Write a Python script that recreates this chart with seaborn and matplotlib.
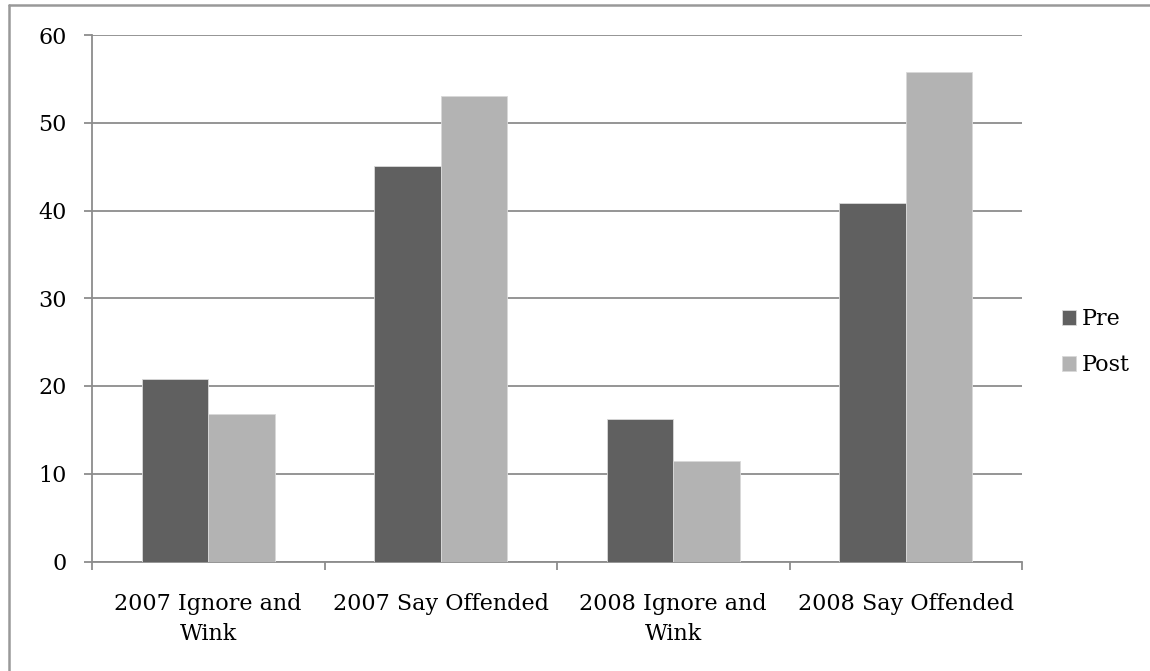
import matplotlib
matplotlib.use("Agg")
import matplotlib.pyplot as plt
from matplotlib.lines import Line2D
import seaborn as sns
import pandas as pd

categories = ["2007 Ignore and\nWink", "2007 Say Offended", "2008 Ignore and\nWink", "2008 Say Offended"]
series_names = ["Pre", "Post"]
pre_values = [20.8, 45.1, 16.2, 40.8]
post_values = [16.8, 53.0, 11.5, 55.8]
y_ticks = [0, 10, 20, 30, 40, 50, 60]

colors = {"Pre": "#606060", "Post": "#b3b3b3"}
grid_color = "#8c8c8c"
font_size = 16

df = pd.DataFrame({
    "category": categories * 2,
    "series": [series_names[0]] * len(categories) + [series_names[1]] * len(categories),
    "value": pre_values + post_values,
})

sns.set_theme(style="white")
plt.rcParams["font.family"] = ["DejaVu Serif"]
plt.rcParams["text.color"] = "black"
plt.rcParams["xtick.color"] = "black"
plt.rcParams["ytick.color"] = "black"

fig = plt.figure(figsize=(11.5, 6.71), dpi=100)
ax = fig.add_axes([92 / 1150, 1 - 561.5 / 671, (1022 - 92) / 1150, (561.5 - 35) / 671])

sns.barplot(data=df, x="category", y="value", hue="series", order=categories,
            hue_order=series_names, palette=colors, width=0.57, gap=0,
            saturation=1, ax=ax, legend=True)

for p in ax.patches:
    p.set_edgecolor("#d9d9d9")
    p.set_linewidth(0.6)
    p.set_zorder(3)

ax.set_xlim(-0.5, len(categories) - 0.5)
ax.set_ylim(0, 60)
ax.set_yticks(y_ticks)
ax.set_yticklabels([str(t) for t in y_ticks])
ax.yaxis.grid(True, color=grid_color, linewidth=1.3, zorder=0)
ax.set_axisbelow(True)

# category boundaries carry the tick marks, centres carry the labels
ax.set_xticks([i - 0.5 for i in range(len(categories) + 1)])
ax.set_xticklabels([])
ax.set_xticks(range(len(categories)), minor=True)
ax.set_xticklabels(categories, minor=True, fontsize=font_size, linespacing=1.45)
ax.tick_params(axis="x", which="major", direction="out", length=6, width=1.3,
               color=grid_color, bottom=True)
ax.tick_params(axis="x", which="minor", length=0, pad=23, labelcolor="black")
ax.tick_params(axis="y", direction="out", length=6, width=1.3, color=grid_color,
               left=True, labelsize=font_size, labelcolor="black", pad=12)
ax.set_xlabel("")
ax.set_ylabel("")

for side in ["top", "right"]:
    ax.spines[side].set_visible(False)
for side in ["left", "bottom"]:
    ax.spines[side].set_color(grid_color)
    ax.spines[side].set_linewidth(1.3)

handles, labels = ax.get_legend_handles_labels()
ax.legend_.remove()
fig.legend(handles, labels, loc="center left", bbox_to_anchor=(1062 / 1150, 1 - 342 / 671),
           frameon=False, fontsize=font_size, handlelength=0.65, handleheight=0.65,
           handletextpad=0.25, labelspacing=1.08, borderpad=0, borderaxespad=0,
           labelcolor="black")

# outer frame (left and top edges)
fig.add_artist(Line2D([9 / 1150, 9 / 1150], [0, 1 - 5 / 671], transform=fig.transFigure,
                      color="#999999", linewidth=1.8))
fig.add_artist(Line2D([9 / 1150, 1], [1 - 5 / 671, 1 - 5 / 671], transform=fig.transFigure,
                      color="#999999", linewidth=1.8))

fig.savefig("out.png", dpi=100)
